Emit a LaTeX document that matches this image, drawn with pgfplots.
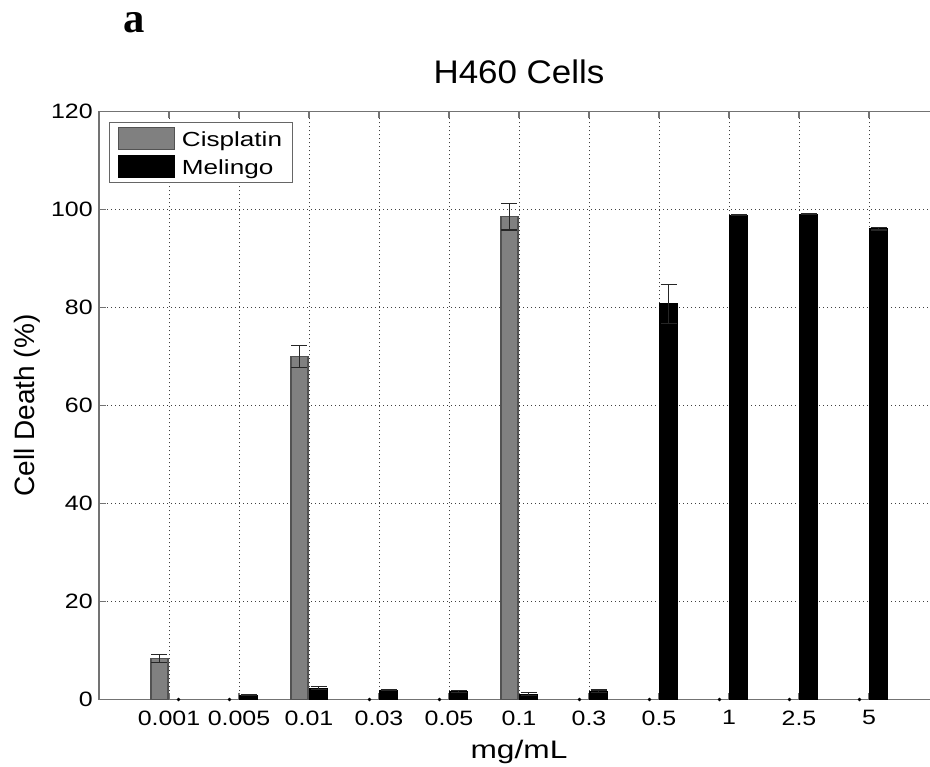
\documentclass[border=0pt]{standalone}
\usepackage{fontspec}
\setmainfont{Liberation Sans}
\newfontfamily\tickfont{Liberation Sans}[FakeStretch=1.2]
\newfontfamily\legfont{Liberation Sans}[FakeStretch=1.28]
\newfontfamily\xlabfont{Liberation Sans}[FakeStretch=1.25]
\newfontfamily\titlefont{Liberation Sans}[FakeStretch=1.07]
\newfontfamily\panelfont{Liberation Serif}
\usepackage{pgfplots}
\pgfplotsset{compat=1.18}
\begin{document}
\begin{tikzpicture}
\path[use as bounding box] (-74.25pt,-50.6pt) rectangle (623.25pt,524.6pt);
\clip (-74.25pt,-50.6pt) rectangle (623.25pt,524.6pt);
\begin{axis}[
  at={(0pt,0pt)}, anchor=south west,
  scale only axis, width=630pt, height=441pt,
  xmin=0, xmax=12, ymin=0, ymax=120,
  enlargelimits=false,
  xtick={1,2,3,4,5,6,7,8,9,10,11},
  xticklabels={0.001,0.005,0.01,0.03,0.05,0.1,0.3,0.5,1,2.5,5},
  ytick={0,20,40,60,80,100,120},
  xmajorgrids, ymajorgrids,
  grid style={black!75, line width=0.6pt, dash pattern=on 0.75pt off 2.25pt},
  axis line style={black!55, line width=0.9pt},
  tick style={black!55, line width=0.9pt},
  tick align=inside, major tick length=5pt,
  xtick pos=both, ytick pos=both,
  /pgf/number format/assume math mode=true,
  ticklabel style={font=\tickfont\fontsize{15.6}{18}\selectfont},
  xticklabel style={inner sep=0pt, anchor=north, yshift=-8.2pt},
  yticklabel style={inner sep=0pt, anchor=east, xshift=-4.5pt},
  title={H460 Cells},
  title style={font=\titlefont\fontsize{24.5}{29}\selectfont, at={(axis description cs:0.5,1.0347)}, anchor=base, inner sep=0pt},
  xlabel={mg/mL},
  xlabel style={font=\xlabfont\fontsize{19}{23}\selectfont, at={(axis description cs:0.5,-0.1)}, anchor=base, inner sep=0pt},
  ylabel={Cell Death (\%)},
  ylabel style={font=\fontsize{21}{25}\selectfont, at={(axis description cs:-0.0762,0.5)}, anchor=base, rotate=0, inner sep=0pt},
  legend cell align=left,
  legend style={at={(axis description cs:0.0119,0.9815)}, anchor=north west,
    draw=black!60, line width=0.8pt, inner xsep=6.5pt, inner ysep=3pt,
    row sep=3.9pt, column sep=4pt,
    font=\legfont\fontsize{15.3}{18}\selectfont, nodes={inner sep=1pt}},
  error bars/error bar style={black!85, line width=0.9pt},
  error bars/error mark options={rotate=90, mark size=6pt, line width=0.9pt, black!85},
]
\addplot[ybar, bar width=0.243, bar shift=0, fill=black!50, draw=black!68, line width=0.8pt,
  legend image code/.code={\draw[fill=black!50, draw=black!68, line width=0.8pt] (0pt,-7pt) rectangle (42pt,9.5pt);},
  error bars/.cd, y dir=both, y explicit]
  coordinates {(0.864,8.4) +- (0,0.8) (2.864,70.0) +- (0,2.2) (5.864,98.5) +- (0,2.7)};
\addlegendentry{Cisplatin}
\addplot[ybar, bar width=0.243, bar shift=0, fill=black, draw=black, line width=0.8pt,
  legend image code/.code={\draw[fill=black, draw=black, line width=0.8pt] (0pt,-7pt) rectangle (42pt,9.5pt);},
  error bars/.cd, y dir=both, y explicit]
  coordinates {(2.136,0.9) +- (0,0.15) (3.136,2.3) +- (0,0.3) (4.136,1.9) +- (0,0.15) (5.136,1.6) +- (0,0.2)
    (6.136,1.1) +- (0,0.25) (7.136,1.7) +- (0,0.25) (8.136,80.7) +- (0,4.0) (9.136,98.8) +- (0,0.1)
    (10.136,99.0) +- (0,0.1) (11.136,96.1) +- (0,0.3)};
\addlegendentry{Melingo}
\addplot[only marks, mark=*, mark size=1.1pt, black, forget plot]
  coordinates {(1.136,0) (1.864,0) (3.864,0) (4.864,0) (6.864,0) (7.864,0) (8.864,0) (9.864,0) (10.864,0)};
\end{axis}
\node[anchor=base, inner sep=0pt, font=\panelfont\bfseries\fontsize{32}{38}\selectfont] at (26.25pt,499.9pt) {a};
\end{tikzpicture}
\end{document}
